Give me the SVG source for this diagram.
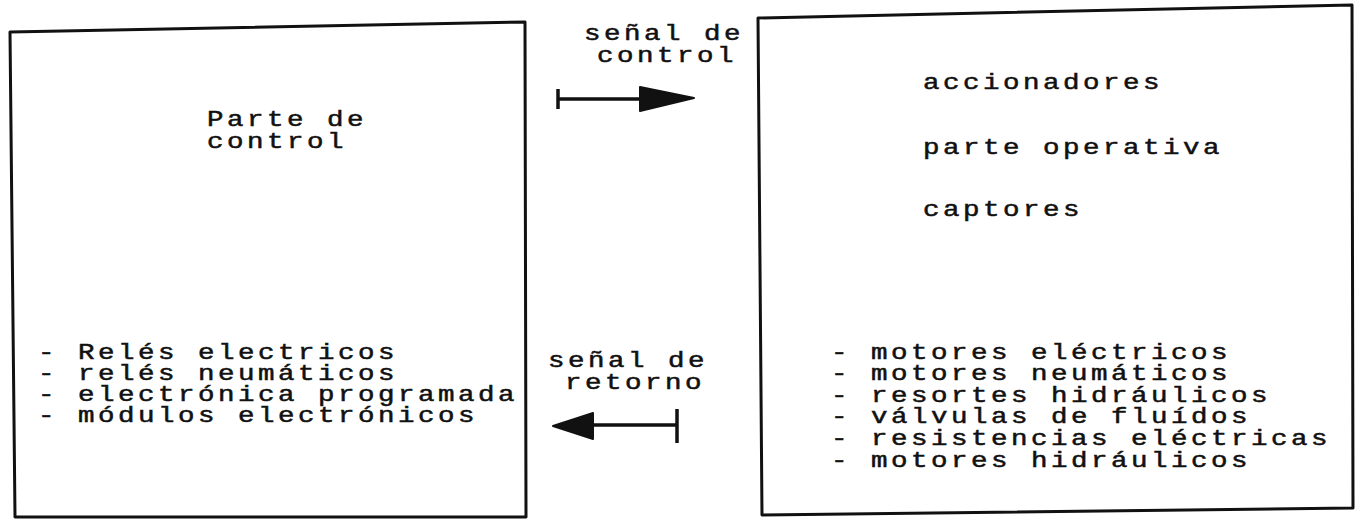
<svg xmlns="http://www.w3.org/2000/svg" width="1362" height="524" viewBox="0 0 1362 524">
<style>
  .box { fill: none; stroke: #111; stroke-width: 3; stroke-linejoin: round; }
  .t { font-family: "Liberation Mono", "DejaVu Sans Mono", monospace; font-size: 22px; letter-spacing: 2.8px; fill: #111; stroke: #111; stroke-width: 0.5; }
  .conn { stroke: #111; stroke-width: 3.5; fill: none; }
  .head { fill: #111; stroke: #111; stroke-width: 2; stroke-linejoin: round; }
</style>
<rect width="1362" height="524" fill="#fff"/>
<g id="parte-control">
  <path class="box" d="M10,32 L525,22 L526,517 L15,517 Z"/>
  <g transform="scale(1.25,1)">
    <text class="t" x="165.6" y="126">Parte de</text>
    <text class="t" x="165.6" y="148">control</text>
    <text class="t" x="30.4" y="359">- Relés electricos</text>
    <text class="t" x="30.4" y="380">- relés neumáticos</text>
    <text class="t" x="30.4" y="401">- electrónica programada</text>
    <text class="t" x="30.4" y="422">- módulos electrónicos</text>
  </g>
</g>
<g id="parte-operativa">
  <path class="box" d="M758,18 L1352,5 L1353,508 L762,515 Z"/>
  <g transform="scale(1.25,1)">
    <text class="t" x="738.4" y="89">accionadores</text>
    <text class="t" x="738.4" y="154">parte operativa</text>
    <text class="t" x="738.4" y="216">captores</text>
    <text class="t" x="664.8" y="359">- motores eléctricos</text>
    <text class="t" x="664.8" y="380">- motores neumáticos</text>
    <text class="t" x="664.8" y="402">- resortes hidráulicos</text>
    <text class="t" x="664.8" y="423">- válvulas de fluídos</text>
    <text class="t" x="664.8" y="445">- resistencias eléctricas</text>
    <text class="t" x="664.8" y="467">- motores hidráulicos</text>
  </g>
</g>
<g id="connectors">
  <g id="senal-control">
    <g transform="scale(1.25,1)">
      <text class="t" x="467.2" y="40">señal de</text>
      <text class="t" x="477.6" y="62">control</text>
    </g>
    <line class="conn" x1="558" y1="99" x2="645" y2="99"/>
    <line class="conn" x1="558" y1="89" x2="558" y2="109"/>
    <path class="head" d="M640,87 L694,98 L640,111 Z"/>
  </g>
  <g id="senal-retorno">
    <g transform="scale(1.25,1)">
      <text class="t" x="438.4" y="367">señal de</text>
      <text class="t" x="452" y="389">retorno</text>
    </g>
    <line class="conn" x1="588" y1="425" x2="677" y2="425"/>
    <line class="conn" x1="677" y1="409" x2="677" y2="443"/>
    <path class="head" d="M593,413 L553,426 L593,439 Z"/>
  </g>
</g>
</svg>
